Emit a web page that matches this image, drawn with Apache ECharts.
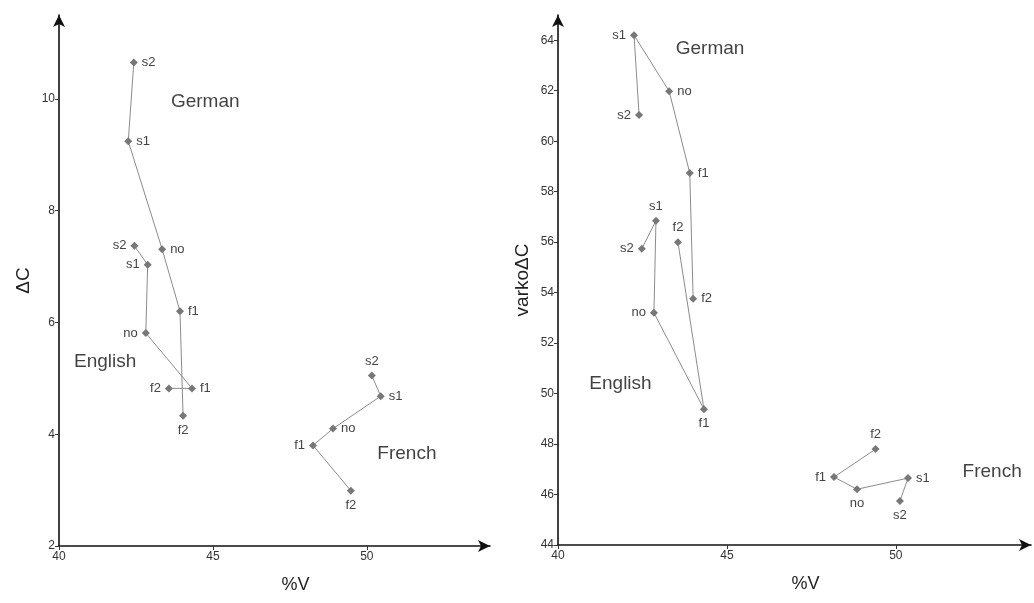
<!DOCTYPE html>
<html>
<head>
<meta charset="utf-8">
<script src="https://cdn.jsdelivr.net/npm/echarts@6/dist/echarts.min.js"></script>
<style>
  html, body { margin: 0; padding: 0; background: #ffffff; }
  #chart { width: 1034px; height: 603px; }
</style>
</head>
<body>
<div id="chart"></div>
<script>
// point order within every language
const stages = ["s2", "s1", "no", "f1", "f2"];

// left panel: %V against ΔC
const leftGermanV = [42.43, 42.25, 43.35, 43.93, 44.03];
const leftGermanC = [10.65, 9.24, 7.31, 6.2, 4.33];
const leftEnglishV = [42.45, 42.88, 42.82, 44.32, 43.57];
const leftEnglishC = [7.37, 7.03, 5.81, 4.82, 4.82];
const leftFrenchV = [50.16, 50.45, 48.9, 48.25, 49.48];
const leftFrenchC = [5.05, 4.68, 4.1, 3.8, 2.99];

// right panel: %V against varkoΔC
const rightGermanV = [42.4, 42.25, 43.29, 43.9, 44.0];
const rightGermanC = [61.04, 64.2, 61.98, 58.74, 53.76];
const rightEnglishV = [42.48, 42.9, 42.84, 44.32, 43.55];
const rightEnglishC = [55.74, 56.85, 53.2, 49.38, 56.0];
const rightFrenchV = [50.12, 50.36, 48.85, 48.17, 49.4];
const rightFrenchC = [45.74, 46.65, 46.21, 46.69, 47.8];

// tick labels
const xTicks = [40, 45, 50];
const leftYTicks = [2, 4, 6, 8, 10];
const rightYTicks = [44, 46, 48, 50, 52, 54, 56, 58, 60, 62, 64];

// language names, placed in data space of each panel
const leftGroupNames = [["German", 44.75, 9.95], ["English", 41.5, 5.3], ["French", 51.3, 3.65]];
const rightGroupNames = [["German", 44.5, 63.65], ["English", 41.85, 50.4], ["French", 52.85, 46.9]];

// where each point's stage label sits
const leftGermanPos = ["right", "right", "right", "right", "bottom"];
const leftEnglishPos = ["left", "left", "left", "right", "left"];
const leftFrenchPos = ["top", "right", "right", "left", "bottom"];
const rightGermanPos = ["left", "left", "right", "right", "right"];
const rightEnglishPos = ["left", "top", "left", "bottom", "top"];
const rightFrenchPos = ["bottom", "right", "bottom", "left", "top"];

const font = "Liberation Sans, Arial, sans-serif";

function makeSeries(vs, cs, pos, idx) {
  return {
    type: "line",
    xAxisIndex: idx,
    yAxisIndex: idx,
    symbol: "diamond",
    symbolSize: 8,
    smooth: false,
    lineStyle: { color: "#8c8c8c", width: 1 },
    itemStyle: { color: "#777777" },
    data: stages.map((s, i) => ({
      value: [vs[i], cs[i]],
      name: s,
      label: { position: pos[i] },
    })),
    label: {
      show: true,
      formatter: (p) => p.name,
      color: "#444444",
      fontSize: 13,
      fontFamily: font,
      distance: 4,
    },
    silent: true,
    z: 3,
  };
}

function groupSeries(names, idx) {
  return {
    type: "scatter",
    xAxisIndex: idx,
    yAxisIndex: idx,
    symbolSize: 0,
    data: names.map((g) => ({ value: [g[1], g[2]], name: g[0] })),
    label: {
      show: true,
      position: "inside",
      formatter: (p) => p.name,
      color: "#111111",
      fontSize: 19,
      fontFamily: font,
    },
    silent: true,
  };
}

function xAxis(idx, padLeft) {
  return {
    gridIndex: idx,
    type: "value",
    min: 40,
    max: 54,
    name: "%V",
    nameLocation: "middle",
    nameGap: 30,
    nameTextStyle: { fontSize: 18, color: "#222", fontFamily: font, padding: [0, 0, 0, padLeft] },
    splitLine: { show: false },
    axisLine: {
      show: true,
      symbol: ["none", "arrow"],
      symbolSize: [9, 12],
      lineStyle: { color: "#111", width: 1.6 },
    },
    axisTick: { show: true, length: 4, customValues: xTicks, lineStyle: { color: "#333" } },
    axisLabel: { customValues: xTicks, fontSize: 12, color: "#333", fontFamily: font, margin: 5 },
  };
}

function yAxis(idx, min, max, ticks, name) {
  return {
    gridIndex: idx,
    type: "value",
    min: min,
    max: max,
    name: name,
    nameLocation: "middle",
    nameGap: 26,
    nameTextStyle: { fontSize: 19, color: "#222", fontFamily: font },
    splitLine: { show: false },
    axisLine: {
      show: true,
      symbol: ["none", "arrow"],
      symbolSize: [9, 12],
      lineStyle: { color: "#111", width: 1.6 },
    },
    axisTick: { show: true, length: 4, customValues: ticks, lineStyle: { color: "#333" } },
    axisLabel: { customValues: ticks, fontSize: 12, color: "#333", fontFamily: font, margin: 4 },
  };
}

const chart = echarts.init(document.getElementById("chart"));
chart.setOption({
  backgroundColor: "#ffffff",
  animation: false,
  grid: [
    { left: 59, top: 15, width: 431, height: 531 },
    { left: 558, top: 15, width: 473, height: 530 },
  ],
  xAxis: [xAxis(0, 42), xAxis(1, 22)],
  yAxis: [
    yAxis(0, 2, 11.5, leftYTicks, "ΔC"),
    yAxis(1, 44, 65, rightYTicks, "varkoΔC"),
  ],
  series: [
    makeSeries(leftGermanV, leftGermanC, leftGermanPos, 0),
    makeSeries(leftEnglishV, leftEnglishC, leftEnglishPos, 0),
    makeSeries(leftFrenchV, leftFrenchC, leftFrenchPos, 0),
    makeSeries(rightGermanV, rightGermanC, rightGermanPos, 1),
    makeSeries(rightEnglishV, rightEnglishC, rightEnglishPos, 1),
    makeSeries(rightFrenchV, rightFrenchC, rightFrenchPos, 1),
    groupSeries(leftGroupNames, 0),
    groupSeries(rightGroupNames, 1),
  ],
});
</script>
</body>
</html>
